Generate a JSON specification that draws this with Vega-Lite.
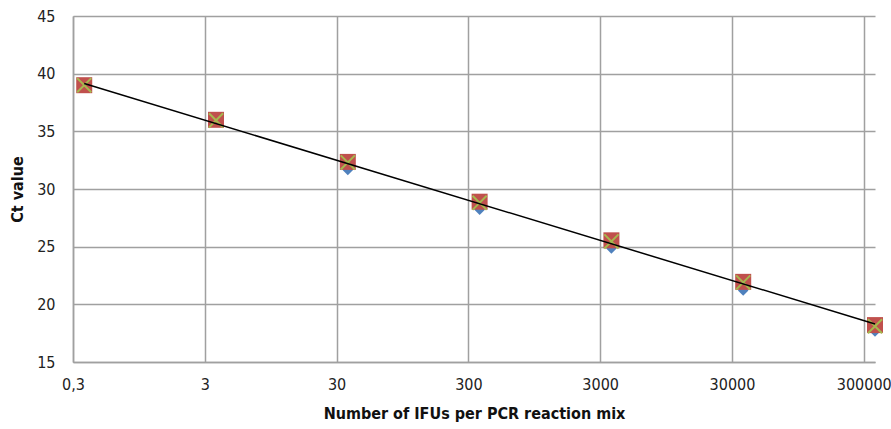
{
  "$schema": "https://vega.github.io/schema/vega-lite/v6.json",
  "width": 802,
  "height": 346,
  "autosize": {"type": "none"},
  "padding": {"left": 73, "top": 16, "right": 16, "bottom": 67},
  "background": "white",
  "config": {
    "view": {"stroke": null},
    "font": "Liberation Sans Narrow, Arial Narrow, DejaVu Sans Condensed, sans-serif"
  },
  "datasets": {
    "pts": [
      {"ifu": 0.365, "ct": 39.0, "series": "A"},
      {"ifu": 3.65, "ct": 35.9, "series": "A"},
      {"ifu": 36.5, "ct": 31.65, "series": "A"},
      {"ifu": 365, "ct": 28.2, "series": "A"},
      {"ifu": 3650, "ct": 24.85, "series": "A"},
      {"ifu": 36500, "ct": 21.2, "series": "A"},
      {"ifu": 365000, "ct": 17.65, "series": "A"},
      {"ifu": 0.365, "ct": 39.0, "series": "B"},
      {"ifu": 3.65, "ct": 36.0, "series": "B"},
      {"ifu": 36.5, "ct": 32.35, "series": "B"},
      {"ifu": 365, "ct": 28.9, "series": "B"},
      {"ifu": 3650, "ct": 25.55, "series": "B"},
      {"ifu": 36500, "ct": 21.95, "series": "B"},
      {"ifu": 365000, "ct": 18.2, "series": "B"},
      {"ifu": 0.365, "ct": 39.0, "series": "C"},
      {"ifu": 3.65, "ct": 35.95, "series": "C"},
      {"ifu": 36.5, "ct": 32.3, "series": "C"},
      {"ifu": 365, "ct": 28.8, "series": "C"},
      {"ifu": 3650, "ct": 25.45, "series": "C"},
      {"ifu": 36500, "ct": 21.9, "series": "C"},
      {"ifu": 365000, "ct": 18.1, "series": "C"}
    ],
    "trend": [
      {"ifu": 0.365, "ct": 39.15},
      {"ifu": 365000, "ct": 18.3}
    ]
  },
  "encoding": {
    "x": {
      "field": "ifu", "type": "quantitative",
      "scale": {"type": "log", "domain": [0.3, 365000], "nice": false},
      "axis": {
        "values": [0.3, 3, 30, 300, 3000, 30000, 300000],
        "labelExpr": "datum.value < 1 ? '0,3' : format(datum.value, 'd')",
        "title": "Number of IFUs per PCR reaction mix",
        "titleFontSize": 16, "titleFontWeight": "bold", "titleColor": "#111",
        "titlePadding": 13,
        "labelFontSize": 16, "labelColor": "#222", "labelPadding": 14,
        "labelFlush": false,
        "ticks": false,
        "domainColor": "#a0a0a0", "domainWidth": 1.5,
        "gridColor": "#a0a0a0", "gridWidth": 1.5, "gridOpacity": 1
      }
    },
    "y": {
      "field": "ct", "type": "quantitative",
      "scale": {"domain": [15, 45], "nice": false, "zero": false},
      "axis": {
        "values": [15, 20, 25, 30, 35, 40, 45],
        "title": "Ct value",
        "titleFontSize": 16, "titleFontWeight": "bold", "titleColor": "#111",
        "titlePadding": 11,
        "labelFontSize": 16, "labelColor": "#222", "labelPadding": 18,
        "ticks": false,
        "domainColor": "#a0a0a0", "domainWidth": 1.5,
        "gridColor": "#a0a0a0", "gridWidth": 1.5, "gridOpacity": 1
      }
    }
  },
  "layer": [
    {
      "data": {"name": "pts"},
      "transform": [{"filter": "datum.series == 'A'"}],
      "mark": {"type": "point", "shape": "diamond", "filled": true, "size": 110, "color": "#4F81BD", "opacity": 1, "clip": false}
    },
    {
      "data": {"name": "pts"},
      "transform": [{"filter": "datum.series == 'B'"}],
      "mark": {"type": "point", "shape": "square", "filled": true, "size": 256, "color": "#C0504D", "opacity": 1, "clip": false}
    },
    {
      "data": {"name": "pts"},
      "transform": [{"filter": "datum.series == 'C'"}],
      "mark": {"type": "point", "shape": "M-1,-1L1,1M-1,1L1,-1", "filled": false, "size": 200, "stroke": "#A6B84E", "strokeWidth": 2, "opacity": 1, "clip": false}
    },
    {
      "data": {"name": "trend"},
      "mark": {"type": "line", "color": "#000000", "strokeWidth": 1.5, "clip": false}
    }
  ]
}
